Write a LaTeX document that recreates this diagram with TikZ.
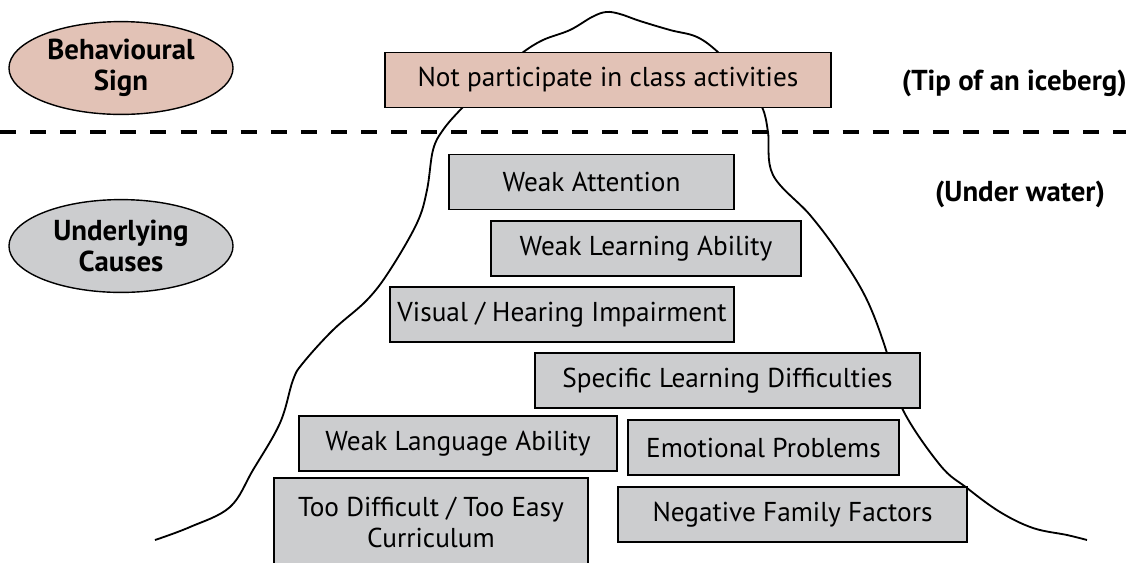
\documentclass[tikz,border=0pt]{standalone}
\usepackage{fontspec}
\setmainfont{PT Sans}
\usetikzlibrary{shapes.geometric}
\definecolor{tipfill}{RGB}{226,194,182}
\definecolor{causefill}{RGB}{204,205,207}

\begin{document}
\begin{tikzpicture}[x=0.025cm, y=-0.025cm,
    causebox/.style={draw, line width=1pt, fill=causefill, minimum height=1.375cm,
      inner sep=0pt, font=\fontsize{19.4}{22}\selectfont, align=center},
    tipbox/.style={causebox, fill=tipfill},
    sideoval/.style={ellipse, draw, line width=1pt, minimum width=5.6cm, minimum height=2.32cm,
      inner sep=0pt, font=\fontsize{20.5}{22}\selectfont\bfseries, align=center},
    sidenote/.style={font=\fontsize{20.5}{22}\selectfont\bfseries, inner sep=0pt}]
    \useasboundingbox (0,0) rectangle (1126,562);

    % the iceberg
    \draw[line width=1.3pt] plot[smooth, tension=0.6] coordinates {
      (155,540) (190,527) (230,507) (253,470) (280,423) (293,380)
      (303,363) (333,330) (367,300) (390,270) (417,223) (427,190)
      (433,150) (443,130) (462,108) (495,75) (522,53) (543,40) (570,30)
      (592,17) (606,12) (620,14) (640,21) (670,30) (697,37) (719,53) (745,80)
      (762,107) (768,132) (773,175) (810,215) (840,255) (867,300)
      (887,353) (902,408) (940,465) (967,488) (1000,512) (1033,528)
      (1067,535) (1087,540)};

    % water line
    \draw[line width=2.5pt, dash pattern=on 11.4pt off 10pt] (0,132) -- (1126,132);

    \node[sideoval, fill=tipfill] (sign) at (121,68) {Behavioural\\Sign};
    \node[sideoval, fill=causefill] (causes) at (121,246) {Underlying\\Causes};

    \node[tipbox, minimum width=11.15cm] (tip) at (608,80) {Not participate in class activities};
    \node[sidenote, anchor=east] (tipnote) at (1127,83) {(Tip of an iceberg)};
    \node[sidenote] (waternote) at (1020,194) {(Under water)};

    \node[causebox, minimum width=7.125cm] (attn) at (591.5,182) {Weak Attention};
    \node[causebox, minimum width=7.75cm] (learn) at (646,248.5) {Weak Learning Ability};
    \node[causebox, minimum width=8.6cm] (sense) at (562,314.5) {Visual / Hearing Impairment};
    \node[causebox, minimum width=9.625cm] (spld) at (727.5,380.5) {Specific Learning Difficulties};
    \node[causebox, minimum width=7.95cm] (lang) at (458,443.5) {Weak Language Ability};
    \node[causebox, minimum width=6.775cm] (emo) at (763.5,447.5) {Emotional Problems};
    \node[causebox, minimum width=7.85cm, minimum height=2.2cm] (curr) at (431,522)
      {Too Difficult / Too Easy\\Curriculum};
    \node[causebox, minimum width=8.725cm] (family) at (792.5,514.5) {Negative Family Factors};

\end{tikzpicture}
\end{document}
